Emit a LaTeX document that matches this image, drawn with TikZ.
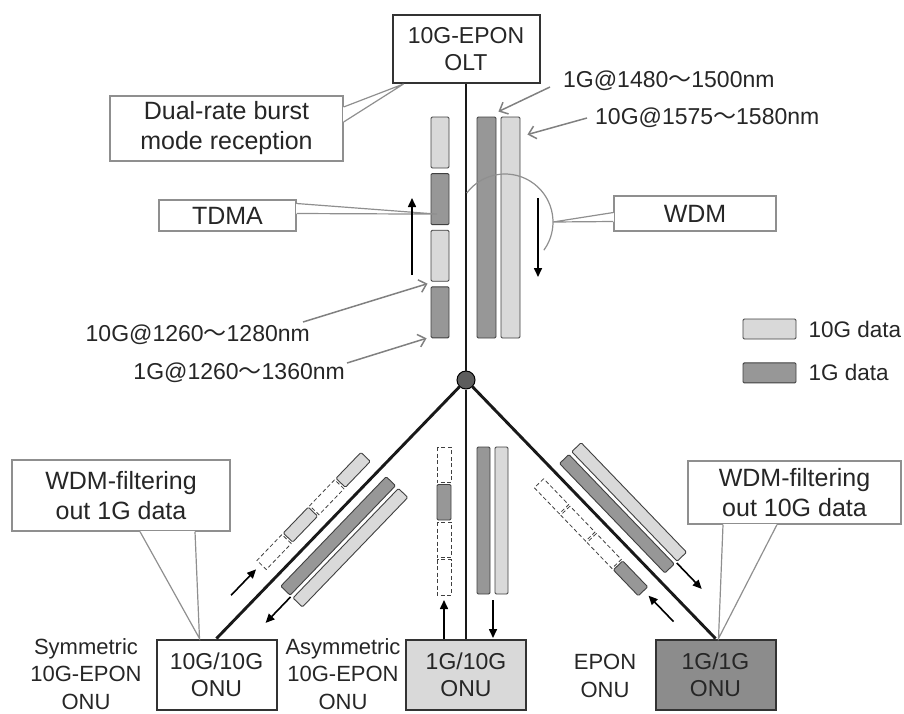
\documentclass[tikz,border=0pt]{standalone}
\usepackage{fontspec}
\setmainfont{Liberation Sans}
\newfontfamily\cjkfont{Noto Sans CJK SC}
\usetikzlibrary{arrows.meta,positioning,calc}
\definecolor{slotlight}{HTML}{D9D9D9}
\definecolor{slotdark}{HTML}{979797}
\definecolor{slotedge}{HTML}{404040}
\definecolor{onudark}{HTML}{8C8C8C}
\definecolor{notegray}{HTML}{8F8F8F}
\newcommand{\wavesep}{{\cjkfont ～}}
\tikzset{
    every node/.style={font=\fontsize{23}{27}\selectfont,align=center,text=black!85},
    unitbox/.style={draw=black!80,line width=2pt,fill=white,minimum width=120pt,minimum height=70pt,inner sep=0pt},
    note/.style={draw=notegray,line width=1.2pt,fill=white,inner sep=0pt,font=\fontsize{25}{30}\selectfont},
    noteline/.style={draw=notegray,line width=1.2pt},
    lightslot/.style={draw=slotedge,line width=0.9pt,fill=slotlight,rounded corners=1.2pt},
    darkslot/.style={draw=slotedge,line width=0.9pt,fill=slotdark,rounded corners=1.2pt},
    emptyslot/.style={draw=slotedge,line width=0.8pt,dash pattern=on 4pt off 2.5pt},
    fiber/.style={draw=black!90,line width=2.9pt},
    flow/.style={line width=1.6pt,-{Triangle[length=9pt,width=8pt]}},
    waveptr/.style={draw=gray,line width=1.5pt,-{Straight Barb[length=7pt,width=13pt]}},
    onutype/.style={font=\fontsize{22}{27.5}\selectfont},
    keytext/.style={inner sep=0pt,font=\fontsize{22.5}{27}\selectfont}
}

\begin{document}
\begin{tikzpicture}[x=1pt,y=-1pt]
\useasboundingbox (0,0) rectangle (904,713);

% OLT, splitter and ONUs
\node[unitbox,minimum width=147pt,minimum height=68pt] (olt) at (466,49) {10G-EPON\\OLT};
\node[circle,draw=black,line width=1pt,fill=slotedge!85,minimum size=18pt,inner sep=0pt] (hub) at (466,380) {};
\node[unitbox] (onuA) at (216.5,674.5) {10G/10G\\ONU};
\node[unitbox,fill=slotlight] (onuB) at (466,674.5) {1G/10G\\ONU};
\node[unitbox,fill=onudark] (onuC) at (715.5,674.5) {1G/1G\\ONU};
\draw[fiber] (olt) -- (hub);
\draw[fiber] (hub) -- (onuA.north);
\draw[fiber] (hub) -- (onuB.north);
\draw[fiber] (hub) -- (onuC.north);

\node[onutype] (symlbl) at (86,674) {Symmetric\\10G-EPON\\ONU};
\node[onutype] (asymlbl) at (343,674) {Asymmetric\\10G-EPON\\ONU};
\node[onutype] (eponlbl) at (605,676) {EPON\\ONU};

% feeder: upstream TDMA slots and downstream WDM pair
\foreach \k/\kind in {0/lightslot,1/darkslot,2/lightslot,3/darkslot}
    \node[\kind,minimum width=18pt,minimum height=51pt,inner sep=0pt] (up\k) at (440,142.5+56.6*\k) {};
\node[darkslot,minimum width=19pt,minimum height=221pt,inner sep=0pt] (down1G) at (486.5,227.5) {};
\node[lightslot,minimum width=19pt,minimum height=221pt,inner sep=0pt] (down10G) at (510.5,227.5) {};
\coordinate (wdmc) at (505,222);
\draw[noteline] (wdmc) ++(217:48) arc[start angle=217,end angle=396,radius=48];

% callouts
\node[note,minimum width=233pt,minimum height=65pt] (burst) at (226.5,128.5) {Dual-rate burst\\mode reception};
\draw[white,line width=1.6pt] ($(burst.east)+(0,-21.5)$) -- ($(burst.east)+(0,-6.5)$);
\draw[noteline] ($(burst.east)+(0,-21.5)$) -- ($(olt.south west)+(12,0)$) -- ($(burst.east)+(0,-6.5)$);

\node[note,minimum width=137pt,minimum height=31pt] (tdma) at (227.5,215.5) {TDMA};
\draw[white,line width=1.6pt] ($(tdma.east)+(0,-12)$) -- ($(tdma.east)+(0,-2)$);
\draw[noteline] ($(tdma.east)+(0,-12)$) -- ($(up1.center)+(-3,15)$) -- ($(tdma.east)+(0,-2)$);

\node[note,minimum width=162pt,minimum height=35pt] (wdm) at (695,213.5) {WDM};
\draw[white,line width=1.6pt] ($(wdm.west)+(0,-1)$) -- ($(wdm.west)+(0,8)$);
\draw[noteline] ($(wdm.west)+(0,-1)$) -- ($(wdmc)+(48,0)$) -- ($(wdm.west)+(0,8)$);

\node[note,minimum width=218pt,minimum height=71pt] (filt1G) at (121,495.5) {WDM-filtering\\out 1G data};
\draw[white,line width=1.6pt] ($(filt1G.south)+(19,0)$) -- ($(filt1G.south)+(74,0)$);
\draw[noteline] ($(filt1G.south)+(19,0)$) -- ($(onuA.north)+(-17,0)$) -- ($(filt1G.south)+(74,0)$);

\node[note,minimum width=213pt,minimum height=63pt] (filt10G) at (794.5,492.5) {WDM-filtering\\out 10G data};
\draw[white,line width=1.6pt] ($(filt10G.south)+(-71.5,0)$) -- ($(filt10G.south)+(-17.5,0)$);
\draw[noteline] ($(filt10G.south)+(-71.5,0)$) -- ($(onuC.north)+(3,0)$) -- ($(filt10G.south)+(-17.5,0)$);

\draw[flow] (412,275) -- (412,198);
\draw[flow] (538,198) -- (538,277);

% wavelengths
\node[anchor=west,inner sep=0pt] (w1480) at (563,81) {1G@1480\wavesep1500nm};
\node[anchor=west,inner sep=0pt] (w1575) at (595,118) {10G@1575\wavesep1580nm};
\node[anchor=east,inner sep=0pt] (w1280) at (310,335) {10G@1260\wavesep1280nm};
\node[anchor=east,inner sep=0pt] (w1360) at (345,373) {1G@1260\wavesep1360nm};
\draw[waveptr] ($(w1480.west)+(-13,6)$) -- ($(down1G.north east)+(2,-5)$);
\draw[waveptr] ($(w1575.west)+(-8,0)$) -- ($(down10G.north east)+(7,18)$);
\draw[waveptr] ($(w1280.east)+(-7,-13)$) -- ($(up2.south west)+(-3,2)$);
\draw[waveptr] ($(w1360.east)+(2,-10)$) -- ($(up3.south west)+(-4,0)$);

% branch to the symmetric ONU
\begin{scope}[shift={(hub)},rotate=226.1]
    \foreach \k/\kind in {0/lightslot,1/emptyslot,2/lightslot,3/emptyslot}
        \draw[\kind] (125+38*\k,12.5) rectangle ++(36,13);
    \draw[darkslot] (125,-9.5) rectangle (277,-22.5);
    \draw[lightslot] (125,-26.5) rectangle (277,-39.5);
    \draw[flow] (318,20) -- (282,20);
    \draw[flow] (278,-24) -- (314,-24);
\end{scope}

% branch to the asymmetric ONU
\foreach \k/\kind in {0/emptyslot,1/darkslot,2/emptyslot,3/emptyslot}
    \draw[\kind] (437,447+37.5*\k) rectangle ++(14,35.5);
\draw[darkslot] (477,447) rectangle (490,594);
\draw[lightslot] (495,447) rectangle (508,594);
\draw[flow] (444,639) -- (444,600);
\draw[flow] (493,600) -- (493,638);

% branch to the EPON ONU
\begin{scope}[shift={(hub)},rotate=-46.1]
    \foreach \k/\kind in {0/emptyslot,1/emptyslot,2/emptyslot,3/darkslot}
        \draw[\kind] (125+38*\k,12.5) rectangle ++(36,13);
    \draw[darkslot] (125,-9.5) rectangle (277,-22.5);
    \draw[lightslot] (125,-26.5) rectangle (277,-39.5);
    \draw[flow] (318,18) -- (282,18);
    \draw[flow] (278,-25) -- (314,-25);
\end{scope}

% key
\node[lightslot,minimum width=53pt,minimum height=20pt,inner sep=0pt] (key10G) at (769.5,329) {};
\node[keytext,right=12pt of key10G] (key10Gtxt) {10G data};
\node[darkslot,minimum width=53pt,minimum height=20pt,inner sep=0pt,below=23pt of key10G] (key1G) {};
\node[keytext,right=12pt of key1G] (key1Gtxt) {1G data};
\end{tikzpicture}
\end{document}
